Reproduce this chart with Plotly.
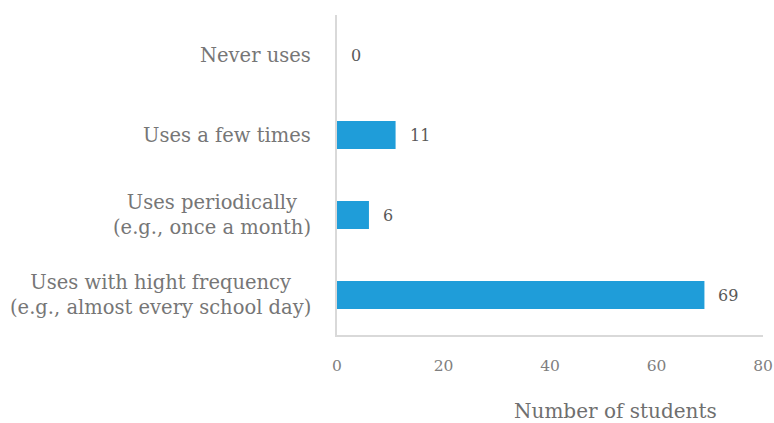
import plotly.graph_objects as go

categories = ["Never uses", "Uses a few times", "Uses periodically<br>(e.g., once a month)",
              "Uses with hight frequency<br>(e.g., almost every school day)"]
values = [0, 11, 6, 69]
x_ticks = [0, 20, 40, 60, 80]
x_title = "Number of students"

FONT = "DejaVu Serif"
W, H = 774, 423
L, R, T, B = 337, 763, 15, 335

fig = go.Figure()
fig.add_trace(go.Bar(
    x=values, y=categories, orientation="h",
    marker=dict(color="#1f9dd9", line=dict(width=0)),
    width=0.35, hoverinfo="skip",
))
for v, c in zip(values, categories):
    fig.add_annotation(x=v, y=c, text=str(v), showarrow=False, xanchor="left",
                       xshift=12, font=dict(family=FONT, size=16, color="#595959"))
    fig.add_annotation(x=0, xref="paper", y=c, text=c, showarrow=False, xanchor="right",
                       xshift=-24, align="center",
                       font=dict(family=FONT, size=19.5, color="#767676"))
fig.add_annotation(xref="paper", yref="paper", text=x_title, showarrow=False,
                   x=(615 - L) / (R - L), y=(B - 411) / (B - T),
                   xanchor="center", yanchor="middle",
                   font=dict(family=FONT, size=20, color="#6f6f6f"))
fig.update_layout(
    width=W, height=H, margin=dict(l=L, r=W - R, t=T, b=H - B, autoexpand=False),
    autosize=False,
    paper_bgcolor="white", plot_bgcolor="white", showlegend=False,
    xaxis=dict(range=[0, 80], tickvals=x_ticks, showgrid=False, zeroline=False,
               showline=True, linecolor="#d9d9d9", linewidth=2, automargin=False,
               tickfont=dict(family=FONT, size=15.5, color="#7f7f7f"),
               ticklabeloverflow="allow",
               ticks="outside", ticklen=15, tickcolor="rgba(0,0,0,0)"),
    yaxis=dict(autorange="reversed", showgrid=False, zeroline=False, automargin=False,
               showline=True, linecolor="#d9d9d9", linewidth=2,
               showticklabels=False),
)
fig.write_html("out.html", config={"displayModeBar": False},
               post_script="document.body.style.margin='0px';")
